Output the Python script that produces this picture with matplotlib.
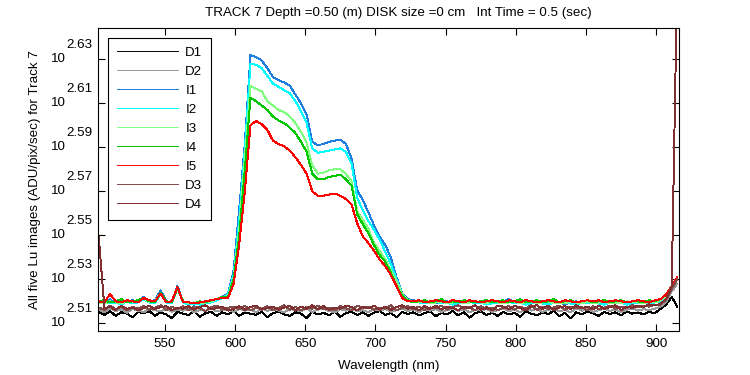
import numpy as np
import matplotlib.pyplot as plt
from matplotlib.ticker import NullLocator

# wavelength grid (nm), one sample every 4 nm
wavelength = np.arange(503, 916, 4)

# log10 of the signal (ADU/pix/sec)
d1_log = [2.5150, 2.5138, 2.5156, 2.5134, 2.5150, 2.5144, 2.5128, 2.5152,
          2.5146, 2.5156, 2.5134, 2.5150, 2.5140, 2.5124, 2.5152, 2.5144,
          2.5138, 2.5156, 2.5130, 2.5146, 2.5152, 2.5134, 2.5150, 2.5140,
          2.5156, 2.5134, 2.5150, 2.5144, 2.5138, 2.5152, 2.5128, 2.5146,
          2.5154, 2.5140, 2.5134, 2.5150, 2.5144, 2.5124, 2.5152, 2.5140,
          2.5148, 2.5136, 2.5154, 2.5130, 2.5146, 2.5152, 2.5138, 2.5150,
          2.5134, 2.5148, 2.5156, 2.5138, 2.5146, 2.5128, 2.5152, 2.5142,
          2.5150, 2.5136, 2.5146, 2.5154, 2.5132, 2.5148, 2.5140, 2.5156,
          2.5136, 2.5150, 2.5126, 2.5146, 2.5154, 2.5138, 2.5148, 2.5134,
          2.5152, 2.5140, 2.5148, 2.5130, 2.5154, 2.5144, 2.5136, 2.5150,
          2.5142, 2.5156, 2.5132, 2.5148, 2.5122, 2.5150, 2.5140, 2.5154,
          2.5146, 2.5134, 2.5152, 2.5142, 2.5150, 2.5136, 2.5154, 2.5144,
          2.5150, 2.5140, 2.5152, 2.5146, 2.5165, 2.5185, 2.5220, 2.5176]

d2_log = [2.5162, 2.5150, 2.5168, 2.5156, 2.5164, 2.5148, 2.5166, 2.5158,
          2.5150, 2.5166, 2.5160, 2.5154, 2.5168, 2.5152, 2.5162, 2.5158,
          2.5166, 2.5150, 2.5162, 2.5156, 2.5168, 2.5154, 2.5160, 2.5164,
          2.5152, 2.5166, 2.5158, 2.5162, 2.5150, 2.5168, 2.5156, 2.5164,
          2.5158, 2.5150, 2.5166, 2.5160, 2.5154, 2.5168, 2.5152, 2.5162,
          2.5166, 2.5156, 2.5150, 2.5164, 2.5158, 2.5168, 2.5154, 2.5160,
          2.5150, 2.5164, 2.5158, 2.5166, 2.5152, 2.5160, 2.5168, 2.5156,
          2.5162, 2.5150, 2.5166, 2.5158, 2.5164, 2.5152, 2.5160, 2.5168,
          2.5156, 2.5164, 2.5150, 2.5162, 2.5158, 2.5166, 2.5152, 2.5160,
          2.5168, 2.5154, 2.5162, 2.5150, 2.5164, 2.5158, 2.5166, 2.5152,
          2.5160, 2.5166, 2.5154, 2.5162, 2.5150, 2.5168, 2.5158, 2.5164,
          2.5152, 2.5160, 2.5166, 2.5156, 2.5164, 2.5150, 2.5162, 2.5168,
          2.5158, 2.5164, 2.5160, 2.5166, 2.5175, 2.5198, 2.5245, 2.5280]

i1_log = [2.5200, 2.5195, 2.5210, 2.5190, 2.5200, 2.5195, 2.5205, 2.5200,
          2.5220, 2.5200, 2.5205, 2.5250, 2.5200, 2.5195, 2.5270, 2.5200,
          2.5190, 2.5185, 2.5195, 2.5190, 2.5200, 2.5205, 2.5220, 2.5235,
          2.5340, 2.5620, 2.5920, 2.6320, 2.6310, 2.6295, 2.6260, 2.6220,
          2.6205, 2.6195, 2.6180, 2.6140, 2.6100, 2.6050, 2.5925, 2.5910,
          2.5915, 2.5925, 2.5930, 2.5935, 2.5915, 2.5850, 2.5705, 2.5660,
          2.5605, 2.5545, 2.5495, 2.5455, 2.5400, 2.5310, 2.5238, 2.5210,
          2.5205, 2.5200, 2.5195, 2.5200, 2.5190, 2.5195, 2.5200, 2.5190,
          2.5195, 2.5200, 2.5205, 2.5195, 2.5190, 2.5200, 2.5195, 2.5190,
          2.5200, 2.5210, 2.5195, 2.5200, 2.5190, 2.5195, 2.5200, 2.5195,
          2.5190, 2.5200, 2.5195, 2.5185, 2.5195, 2.5200, 2.5190, 2.5195,
          2.5200, 2.5195, 2.5190, 2.5200, 2.5195, 2.5200, 2.5190, 2.5195,
          2.5195, 2.5200, 2.5195, 2.5200, 2.5205, 2.5225, 2.5265, 2.5305]

i2_log = [2.5190, 2.5200, 2.5190, 2.5195, 2.5185, 2.5200, 2.5190, 2.5195,
          2.5210, 2.5195, 2.5190, 2.5235, 2.5195, 2.5190, 2.5260, 2.5195,
          2.5185, 2.5190, 2.5185, 2.5190, 2.5195, 2.5205, 2.5215, 2.5230,
          2.5320, 2.5570, 2.5890, 2.6280, 2.6275, 2.6260, 2.6225, 2.6190,
          2.6175, 2.6160, 2.6145, 2.6110, 2.6065, 2.6010, 2.5895, 2.5875,
          2.5880, 2.5885, 2.5890, 2.5895, 2.5880, 2.5825, 2.5670, 2.5615,
          2.5565, 2.5525, 2.5480, 2.5425, 2.5370, 2.5300, 2.5235, 2.5205,
          2.5200, 2.5195, 2.5190, 2.5195, 2.5200, 2.5190, 2.5195, 2.5185,
          2.5190, 2.5195, 2.5200, 2.5190, 2.5195, 2.5185, 2.5190, 2.5195,
          2.5195, 2.5200, 2.5190, 2.5195, 2.5185, 2.5190, 2.5195, 2.5190,
          2.5185, 2.5195, 2.5190, 2.5195, 2.5190, 2.5185, 2.5195, 2.5190,
          2.5195, 2.5190, 2.5185, 2.5195, 2.5190, 2.5195, 2.5185, 2.5190,
          2.5190, 2.5195, 2.5190, 2.5195, 2.5200, 2.5220, 2.5260, 2.5300]

i3_log = [2.5195, 2.5190, 2.5200, 2.5195, 2.5190, 2.5200, 2.5195, 2.5205,
          2.5215, 2.5195, 2.5200, 2.5240, 2.5195, 2.5200, 2.5255, 2.5200,
          2.5190, 2.5195, 2.5190, 2.5195, 2.5200, 2.5210, 2.5215, 2.5225,
          2.5305, 2.5530, 2.5850, 2.6180, 2.6165, 2.6155, 2.6110, 2.6090,
          2.6070, 2.6060, 2.6040, 2.6010, 2.5970, 2.5920, 2.5820, 2.5780,
          2.5785, 2.5795, 2.5800, 2.5800, 2.5780, 2.5745, 2.5610, 2.5570,
          2.5530, 2.5465, 2.5430, 2.5390, 2.5340, 2.5290, 2.5235, 2.5205,
          2.5200, 2.5195, 2.5200, 2.5190, 2.5195, 2.5200, 2.5190, 2.5195,
          2.5200, 2.5190, 2.5195, 2.5200, 2.5195, 2.5190, 2.5200, 2.5195,
          2.5190, 2.5195, 2.5200, 2.5190, 2.5195, 2.5200, 2.5190, 2.5195,
          2.5200, 2.5190, 2.5195, 2.5190, 2.5200, 2.5195, 2.5190, 2.5200,
          2.5190, 2.5195, 2.5200, 2.5190, 2.5195, 2.5190, 2.5200, 2.5195,
          2.5195, 2.5190, 2.5200, 2.5195, 2.5205, 2.5225, 2.5265, 2.5305]

i4_log = [2.5200, 2.5205, 2.5195, 2.5200, 2.5210, 2.5195, 2.5200, 2.5205,
          2.5215, 2.5200, 2.5195, 2.5240, 2.5200, 2.5195, 2.5260, 2.5200,
          2.5195, 2.5190, 2.5200, 2.5195, 2.5205, 2.5210, 2.5220, 2.5220,
          2.5300, 2.5500, 2.5800, 2.6125, 2.6110, 2.6090, 2.6070, 2.6040,
          2.6022, 2.6010, 2.5990, 2.5965, 2.5925, 2.5880, 2.5780, 2.5755,
          2.5755, 2.5765, 2.5770, 2.5775, 2.5755, 2.5725, 2.5595, 2.5550,
          2.5510, 2.5455, 2.5410, 2.5380, 2.5330, 2.5270, 2.5225, 2.5205,
          2.5195, 2.5200, 2.5205, 2.5195, 2.5200, 2.5210, 2.5195, 2.5200,
          2.5195, 2.5205, 2.5200, 2.5195, 2.5200, 2.5205, 2.5195, 2.5200,
          2.5205, 2.5195, 2.5200, 2.5210, 2.5195, 2.5200, 2.5205, 2.5195,
          2.5200, 2.5210, 2.5195, 2.5200, 2.5205, 2.5195, 2.5200, 2.5205,
          2.5195, 2.5200, 2.5205, 2.5195, 2.5200, 2.5205, 2.5195, 2.5200,
          2.5200, 2.5195, 2.5205, 2.5200, 2.5210, 2.5230, 2.5270, 2.5310]

i5_log = [2.5200, 2.5195, 2.5233, 2.5200, 2.5195, 2.5205, 2.5200, 2.5195,
          2.5215, 2.5205, 2.5200, 2.5235, 2.5195, 2.5200, 2.5265, 2.5195,
          2.5195, 2.5190, 2.5195, 2.5200, 2.5205, 2.5210, 2.5215, 2.5215,
          2.5280, 2.5460, 2.5700, 2.6000, 2.6020, 2.6005, 2.5980, 2.5930,
          2.5915, 2.5905, 2.5885, 2.5855, 2.5820, 2.5780, 2.5700, 2.5680,
          2.5680, 2.5685, 2.5690, 2.5680, 2.5665, 2.5640, 2.5555, 2.5495,
          2.5465, 2.5430, 2.5390, 2.5360, 2.5320, 2.5270, 2.5215, 2.5200,
          2.5200, 2.5205, 2.5195, 2.5200, 2.5205, 2.5200, 2.5195, 2.5205,
          2.5200, 2.5195, 2.5205, 2.5200, 2.5195, 2.5200, 2.5205, 2.5200,
          2.5195, 2.5205, 2.5200, 2.5195, 2.5205, 2.5200, 2.5195, 2.5200,
          2.5205, 2.5200, 2.5195, 2.5205, 2.5200, 2.5195, 2.5200, 2.5205,
          2.5200, 2.5205, 2.5195, 2.5200, 2.5205, 2.5200, 2.5195, 2.5200,
          2.5205, 2.5200, 2.5195, 2.5205, 2.5210, 2.5230, 2.5270, 2.5310]

d3_log = [2.5172, 2.5160, 2.5180, 2.5164, 2.5176, 2.5158, 2.5174, 2.5166,
          2.5178, 2.5162, 2.5170, 2.5182, 2.5160, 2.5174, 2.5166, 2.5178,
          2.5160, 2.5176, 2.5168, 2.5156, 2.5174, 2.5180, 2.5162, 2.5170,
          2.5176, 2.5164, 2.5180, 2.5158, 2.5172, 2.5166, 2.5178, 2.5160,
          2.5170, 2.5182, 2.5162, 2.5174, 2.5158, 2.5176, 2.5166, 2.5180,
          2.5164, 2.5172, 2.5158, 2.5178, 2.5168, 2.5160, 2.5180, 2.5170,
          2.5176, 2.5162, 2.5172, 2.5166, 2.5182, 2.5158, 2.5170, 2.5178,
          2.5164, 2.5176, 2.5160, 2.5172, 2.5168, 2.5180, 2.5162, 2.5174,
          2.5182, 2.5166, 2.5174, 2.5158, 2.5178, 2.5164, 2.5172, 2.5160,
          2.5170, 2.5178, 2.5162, 2.5176, 2.5168, 2.5182, 2.5160, 2.5174,
          2.5166, 2.5172, 2.5180, 2.5162, 2.5176, 2.5168, 2.5174, 2.5158,
          2.5178, 2.5164, 2.5172, 2.5180, 2.5166, 2.5176, 2.5170, 2.5182,
          2.5172, 2.5180, 2.5176, 2.5184, 2.5185, 2.5208, 2.5255, 2.5300]

d4_log = [2.5490, 2.5168, 2.5176, 2.5160, 2.5180, 2.5166, 2.5172, 2.5158,
          2.5170, 2.5180, 2.5164, 2.5174, 2.5178, 2.5160, 2.5172, 2.5166,
          2.5178, 2.5162, 2.5174, 2.5182, 2.5164, 2.5170, 2.5176, 2.5158,
          2.5166, 2.5178, 2.5160, 2.5174, 2.5180, 2.5162, 2.5170, 2.5176,
          2.5162, 2.5172, 2.5180, 2.5158, 2.5176, 2.5166, 2.5182, 2.5164,
          2.5178, 2.5160, 2.5172, 2.5166, 2.5180, 2.5174, 2.5158, 2.5176,
          2.5168, 2.5180, 2.5162, 2.5176, 2.5160, 2.5174, 2.5182, 2.5166,
          2.5174, 2.5158, 2.5178, 2.5166, 2.5180, 2.5162, 2.5176, 2.5170,
          2.5160, 2.5176, 2.5168, 2.5182, 2.5162, 2.5174, 2.5158, 2.5180,
          2.5176, 2.5164, 2.5180, 2.5170, 2.5158, 2.5176, 2.5182, 2.5166,
          2.5180, 2.5160, 2.5172, 2.5178, 2.5164, 2.5182, 2.5168, 2.5176,
          2.5164, 2.5180, 2.5166, 2.5174, 2.5182, 2.5160, 2.5176, 2.5170,
          2.5180, 2.5174, 2.5186, 2.5182, 2.5188, 2.5210, 2.5268, 2.6700]

series_names = ['D1', 'D2', 'I1', 'I2', 'I3', 'I4', 'I5', 'D3', 'D4']
series_logs = [d1_log, d2_log, i1_log, i2_log, i3_log, i4_log, i5_log, d3_log, d4_log]
series_colors = ['#000000', '#999999', '#1f7fe0', '#00ffff', '#80ff80',
                 '#00c800', '#ff0000', '#804c4c', '#803030']

xticks = [550, 600, 650, 700, 750, 800, 850, 900]
ytick_exponents = [2.51, 2.53, 2.55, 2.57, 2.59, 2.61, 2.63]

plt.rcParams['font.family'] = ['Liberation Sans', 'DejaVu Sans']
plt.rcParams['font.size'] = 9.6

fig = plt.figure(figsize=(7.5, 3.75), dpi=100)
ax = fig.add_axes([0.131, 0.1173, 0.7747, 0.8072])

for name, logs, color in zip(series_names, series_logs, series_colors):
    ax.plot(wavelength, 10 ** np.array(logs), color=color, lw=0.7,
            label=name, antialiased=False)

ax.set_yscale('log')
ax.set_xlim(502.6, 916.4)
ax.set_ylim(10 ** 2.5065, 10 ** 2.6441)
ax.set_xticks(xticks)
ax.set_yticks(10 ** np.array(ytick_exponents))
ax.yaxis.set_minor_locator(NullLocator())
ax.set_yticklabels([''] * len(ytick_exponents))
ax.tick_params(direction='in', top=True, right=True, length=5, width=0.8, pad=5)
for spine in ax.spines.values():
    spine.set_linewidth(0.8)

# matlab style "10^x" labels: base and raised exponent as two texts
ytf = ax.get_yaxis_transform()
for e in ytick_exponents:
    ax.text(-0.0565, 10 ** e, '10', transform=ytf, ha='right', va='center')
    ax.text(-0.0547, 10 ** (e + 0.0064), '%.2f' % e, transform=ytf,
            ha='left', va='center')

leg = ax.legend(loc='upper left', bbox_to_anchor=(0.0167, 0.968),
                borderaxespad=0, fancybox=False, edgecolor='black',
                framealpha=1, handlelength=4.6, labelspacing=0.5,
                handletextpad=0.55, borderpad=0.65)
leg.get_frame().set_linewidth(0.8)

fig.text(0.5315, 0.965, 'TRACK 7 Depth =0.50 (m) DISK size =0 cm   Int Time = 0.5 (sec)',
         ha='center', va='center')
fig.text(0.5184, 0.024, 'Wavelength (nm)', ha='center', va='center')
fig.text(0.0467, 0.5208, 'All five Lu images (ADU/pix/sec) for Track 7',
         ha='center', va='center', rotation=90)

fig.savefig('out.png', dpi=100)
